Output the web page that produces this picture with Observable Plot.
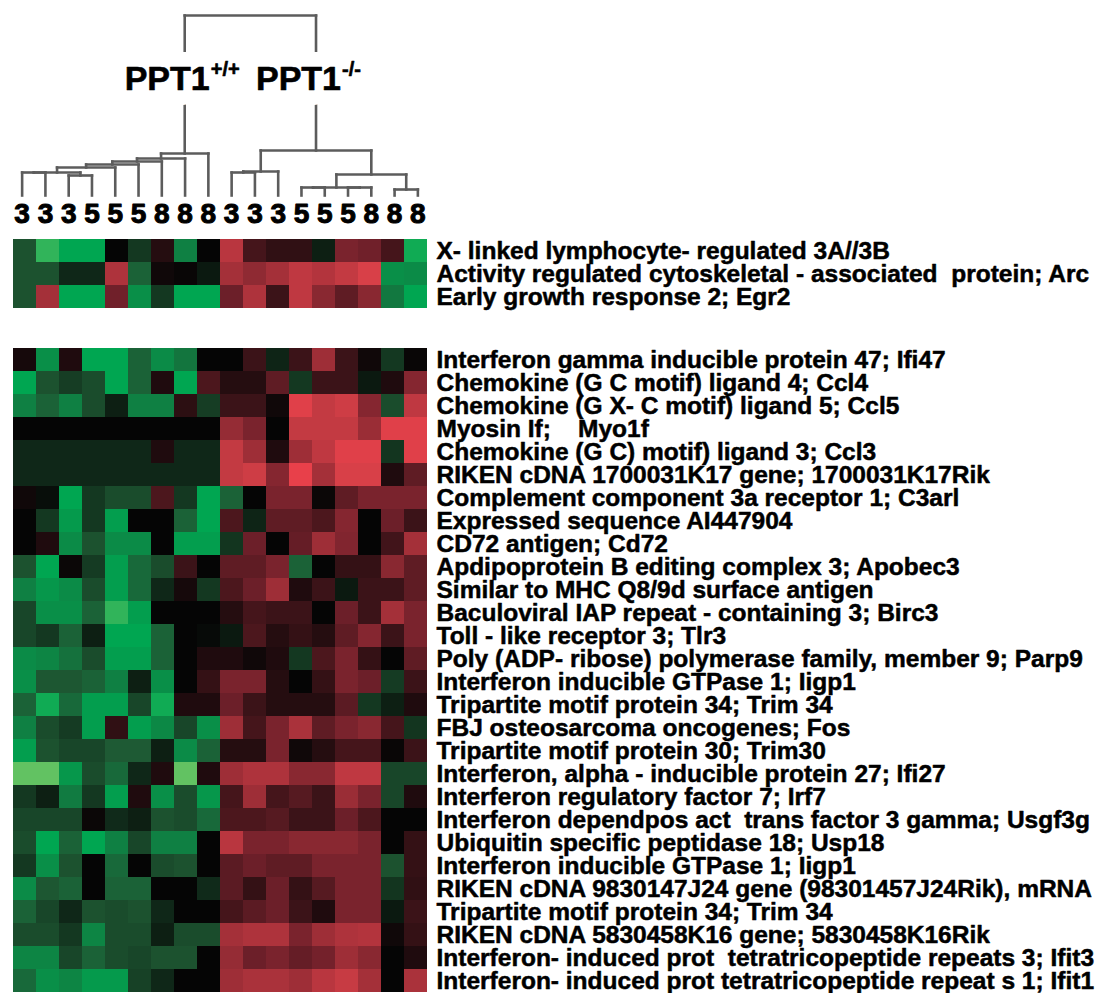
<!DOCTYPE html>
<html><head><meta charset="utf-8">
<script src="https://cdn.jsdelivr.net/npm/d3@7"></script>
<script src="https://cdn.jsdelivr.net/npm/@observablehq/plot@0.6"></script>
<style>
html,body{margin:0;padding:0;background:#fff;overflow:hidden;}
#chart{position:relative;width:1109px;height:993px;overflow:hidden;background:#fff;}
#chart svg{position:absolute;left:0;}
</style></head><body><div id="chart"></div>
<script>
// ---- column (sample) labels ----
const colLabels = ["3","3","3","5","5","5","8","8","8","3","3","3","5","5","5","8","8","8"];

// ---- dendrogram merges: [childA, childB, height]; L# = leaf column, N# = earlier merge ----
const merges = [
  ["L0","L1",23], ["L2","L3",20], ["N0","N1",23], ["N2","L4",28], ["N3","L5",31],
  ["N4","L6",34], ["N5","L7",37], ["N6","L8",42],
  ["L9","L10",23], ["N8","L11",24], ["L12","L13",8], ["L14","L15",8], ["N10","N11",8],
  ["L16","L17",6], ["N12","N13",21], ["N9","N14",45],
  ["N7","N15",180]
];
const groupLabels = [
  {node: 7, text: "PPT1", sup: "+/+", h: 116},
  {node: 15, text: "PPT1", sup: "-/-", h: 116}
];

// ---- genes ----
const topGenes = [
  "X- linked lymphocyte- regulated 3A//3B",
  "Activity regulated cytoskeletal - associated  protein; Arc",
  "Early growth response 2; Egr2"
];
const topValues = [
  [-0.45,-1.15,-1,-1,0,-0.3,0.15,-0.75,0,0.85,0.3,0.2,0.2,-0.15,0.55,0.5,0.3,-1.05],
  [-0.45,-0.45,-0.2,-0.2,0.8,-0.55,0.05,0.02,-0.12,0.75,0.65,0.75,0.88,0.82,0.9,1.0,-0.85,-0.82],
  [-0.45,0.75,-1,-1,0.5,-0.85,-0.3,-1,-1,0.48,0.8,0.25,0.88,0.62,0.42,0.62,-0.7,-1]
];
const bottomGenes = [
  "Interferon gamma inducible protein 47; Ifi47",
  "Chemokine (G C motif) ligand 4; Ccl4",
  "Chemokine (G X- C motif) ligand 5; Ccl5",
  "Myosin If;    Myo1f",
  "Chemokine (G C) motif) ligand 3; Ccl3",
  "RIKEN cDNA 1700031K17 gene; 1700031K17Rik",
  "Complement component 3a receptor 1; C3arl",
  "Expressed sequence AI447904",
  "CD72 antigen; Cd72",
  "Apdipoprotein B editing complex 3; Apobec3",
  "Similar to MHC Q8/9d surface antigen",
  "Baculoviral IAP repeat - containing 3; Birc3",
  "Toll - like receptor 3; Tlr3",
  "Poly (ADP- ribose) polymerase family, member 9; Parp9",
  "Interferon inducible GTPase 1; Iigp1",
  "Tripartite motif protein 34; Trim 34",
  "FBJ osteosarcoma oncogenes; Fos",
  "Tripartite motif protein 30; Trim30",
  "Interferon, alpha - inducible protein 27; Ifi27",
  "Interferon regulatory factor 7; Irf7",
  "Interferon dependpos act  trans factor 3 gamma; Usgf3g",
  "Ubiquitin specific peptidase 18; Usp18",
  "Interferon inducible GTPase 1; Iigp1",
  "RIKEN cDNA 9830147J24 gene (98301457J24Rik), mRNA",
  "Tripartite motif protein 34; Trim 34",
  "RIKEN cDNA 5830458K16 gene; 5830458K16Rik",
  "Interferon- induced prot  tetratricopeptide repeats 3; Ifit3",
  "Interferon- induced prot tetratricopeptide repeat s 1; Ifit1"
];
const bottomValues = [
  [0.08,-0.85,0.12,-1,-1,-0.55,-0.82,-0.68,0,0,0.25,-0.18,0.25,0.72,0.25,0.05,-0.3,0.02],
  [-1,-0.45,-0.33,-0.42,-1,-0.55,0.12,-1,0.33,0.15,0.15,0.42,-0.3,0.25,0.25,-0.12,0.12,0.6],
  [-0.75,-0.55,-0.75,-0.42,-0.15,-0.75,-0.75,0.18,-0.33,0.25,0.25,0.05,1.05,0.9,0.95,0.6,-0.42,0.88],
  [0,0,0,0,0,0,0,0,0,0.68,0.55,0,0.9,0.9,0.9,0.7,1.05,1.05],
  [-0.2,-0.2,-0.2,-0.2,-0.2,-0.2,0.12,-0.2,-0.2,0.9,0.72,0.12,0.72,0.88,1.05,1.05,-0.28,1.05],
  [-0.2,-0.2,-0.2,-0.2,-0.2,-0.2,-0.2,-0.2,-0.2,0.9,0.95,0.6,1.1,0.75,1,1,0.12,0.42],
  [0.05,-0.05,-1,-0.3,-0.42,-0.42,0.33,-0.3,-1,-0.55,0,0.55,0.55,0.03,0.42,0.55,0.55,0.55],
  [0,-0.3,-0.92,-0.3,-0.95,0,0,-0.55,-1,0.33,-0.18,0.42,0.42,0.33,0.6,0,0.48,0.25],
  [0,0.12,-0.82,-0.45,-0.82,-0.82,0,-0.95,-0.95,-0.28,0.48,0,0.45,0.72,0.58,0,0.28,0.75],
  [-0.45,-1,0.03,-0.32,-0.95,-0.6,-0.42,0.25,0,0.42,0.42,0.55,-0.55,0,0.22,0.22,0.62,0.42],
  [-0.75,-0.9,-0.82,-0.42,-0.95,-0.6,-0.2,0.08,-0.3,0.33,0.48,0.72,0.12,0.25,-0.12,0.25,0.25,0.42],
  [-0.38,-0.85,-0.85,-0.55,-1.15,-0.95,0,0,0,0.15,0.3,0.25,0.25,0,0.48,0.25,0.75,0.55],
  [-0.38,-0.3,-0.55,-0.15,-1,-1,-0.55,0,-0.03,-0.12,0.33,0.15,0.22,0.15,0.42,0.6,0.25,0.55],
  [-0.82,-0.78,-0.65,-0.42,-0.95,-0.95,-0.55,0,0.12,0.12,0.05,0.12,-0.3,0.33,0.55,0.22,0,0.42],
  [-0.85,-0.48,-0.48,-0.55,-0.75,-0.15,-0.85,0,0.22,0.55,0.55,0.15,0,0.22,0.55,0.48,-0.32,0.25],
  [-0.55,-1.05,-0.6,-0.95,-0.95,-0.38,-1.05,0.12,0.12,0.48,0.25,0.15,0.15,0.15,0.4,-0.3,-0.15,0.12],
  [-0.75,-0.42,-0.32,-0.95,0.2,-0.95,-0.8,-0.38,-0.85,0.72,0.3,0.55,0.78,0.42,0.55,0.62,0.3,-0.28],
  [-0.95,-0.45,-0.38,-0.38,-0.5,-0.5,-0.15,-0.82,-0.55,0.15,0.15,0.55,0.05,0.15,0.3,0.3,0.02,0.25],
  [-1.3,-1.3,-0.9,-0.42,-0.6,-0.2,0.12,-1.3,0.12,0.72,0.8,0.8,0.62,0.62,0.88,0.88,-0.38,-0.38],
  [-0.3,-0.15,-0.72,-0.3,-0.95,0.12,-0.85,-0.42,-0.9,0.3,0.72,0.3,0.38,0.25,0.7,0.55,-0.38,0.12],
  [-0.38,-0.38,-0.38,0.03,-0.22,-0.15,-0.45,-0.42,-0.6,0.33,0.33,0.38,0.25,0.25,0.48,0.33,0,0],
  [-0.42,-1,-0.55,-1,-0.75,-0.38,-0.75,-0.75,0,0.85,0.55,0.55,0.62,0.62,0.62,0.55,0,0.22],
  [-0.3,-0.85,-0.45,0,-0.6,0,-0.42,-0.45,0,0.4,0.48,0.42,0.42,0.55,0.55,0.55,-0.45,0.22],
  [-0.82,-0.48,-0.55,0,-0.55,-0.55,0,0,-0.22,0.4,0.22,0.48,0.22,0.38,0.55,0.55,-0.28,0.2],
  [-0.55,-0.38,-0.2,-0.45,-0.42,-0.45,-0.2,0,0,0.3,0.4,0.48,0.25,0.12,0.55,0.55,-0.12,0.25],
  [-0.42,-0.42,-0.3,-0.78,-0.42,-0.42,-0.15,-0.42,-0.42,0.75,0.8,0.8,0.55,0.72,0.8,0.82,0.05,0.22],
  [-0.78,-0.78,-0.38,-0.55,-0.42,-0.38,-0.45,-0.45,0,0.68,0.48,0.55,0.45,0.52,0.72,0.62,0,0.12],
  [-0.6,-0.85,-0.78,-0.92,-0.92,-0.35,-0.2,0,0,0.72,0.78,0.78,0.72,0.85,0.92,0.75,0,0.78]
];

// ---- colour scale (green - black - red) ----
const colorDomain = [-1.3, -1, -0.5, 0, 0.5, 1, 1.1];
const colorRange = ["#62c262", "#00a651", "#1e5a34", "#050505", "#70202a", "#d84048", "#e8404a"];

const FONT = "'Liberation Sans', Arial, Helvetica, sans-serif";
const chart = document.getElementById("chart");

// ---- dendrogram geometry from merges ----
const nodeX = [], nodeH = [];
function pos(id) {
  const k = +id.slice(1);
  return id[0] === "L" ? {x: k + 0.5, h: 0} : {x: nodeX[k], h: nodeH[k]};
}
const segs = [];
merges.forEach(([a, b, h], k) => {
  const A = pos(a), B = pos(b);
  segs.push({x1: A.x, y1: A.h, x2: A.x, y2: h});
  segs.push({x1: B.x, y1: B.h, x2: B.x, y2: h});
  segs.push({x1: A.x, y1: h, x2: B.x, y2: h});
  nodeX[k] = (A.x + B.x) / 2; nodeH[k] = h;
});

const mainOpts = {x: d => nodeX[d.node], y: "h", text: "text", textAnchor: "end", dx: 25, fontSize: 34, fontWeight: "bold"};
const supOpts = {x: d => nodeX[d.node], y: "h", text: "sup", textAnchor: "start", dx: 26, dy: -10, fontSize: 20, fontWeight: "bold"};
const halo = {fill: "white", stroke: "white", strokeWidth: 30, strokeLinejoin: "round"};
const ink = {fill: "black", stroke: "black", strokeWidth: 0.6};

const dendro = Plot.plot({
  width: 1109, height: 232, marginLeft: 10, marginRight: 680, marginTop: 15, marginBottom: 37,
  x: {domain: [0, 18], axis: null},
  y: {domain: [0, 180], axis: null},
  style: {fontFamily: FONT, color: "black", background: "transparent", overflow: "visible"},
  marks: [
    Plot.link(segs, {x1: "x1", y1: "y1", x2: "x2", y2: "y2", stroke: "#5c5c5c", strokeWidth: 2.6, strokeLinecap: "square"}),
    Plot.axisX(d3.range(18).map(i => i + 0.5), {tickSize: 0, tickPadding: 8, tickFormat: d => colLabels[Math.floor(d)], fontSize: 28, fontWeight: "bold", textStroke: "black", textStrokeWidth: 1, label: null}),
    Plot.text(groupLabels, {...mainOpts, ...halo}),
    Plot.text(groupLabels, {...supOpts, ...halo}),
    Plot.text(groupLabels, {...mainOpts, ...ink}),
    Plot.text(groupLabels, {...supOpts, ...ink})
  ]
});
dendro.style.top = "0px";
chart.appendChild(dendro);

function heat(values, genes, height, top) {
  const cells = values.flatMap((row, r) => row.map((v, c) => ({r, c, v})));
  const svg = Plot.plot({
    width: 1109, height, marginLeft: 10, marginRight: 680, marginTop: 0, marginBottom: 0,
    x: {type: "band", domain: d3.range(18), padding: 0, axis: null},
    y: {type: "band", domain: d3.range(genes.length), padding: 0},
    color: {type: "linear", domain: colorDomain, range: colorRange, interpolate: "rgb"},
    style: {fontFamily: FONT, color: "black", background: "transparent", overflow: "visible"},
    marks: [
      Plot.cell(cells, {x: "c", y: "r", fill: "v", inset: 0, shapeRendering: "crispEdges"}),
      Plot.axisY({anchor: "right", tickSize: 0, tickPadding: 7, tickFormat: i => genes[i], fontSize: 24.5, fontWeight: "bold", textStroke: "black", textStrokeWidth: 0.5, label: null})
    ]
  });
  svg.style.top = top + "px";
  chart.appendChild(svg);
}
heat(topValues, topGenes, 71, 238);
heat(bottomValues, bottomGenes, 653, 343);
</script>
</body></html>
